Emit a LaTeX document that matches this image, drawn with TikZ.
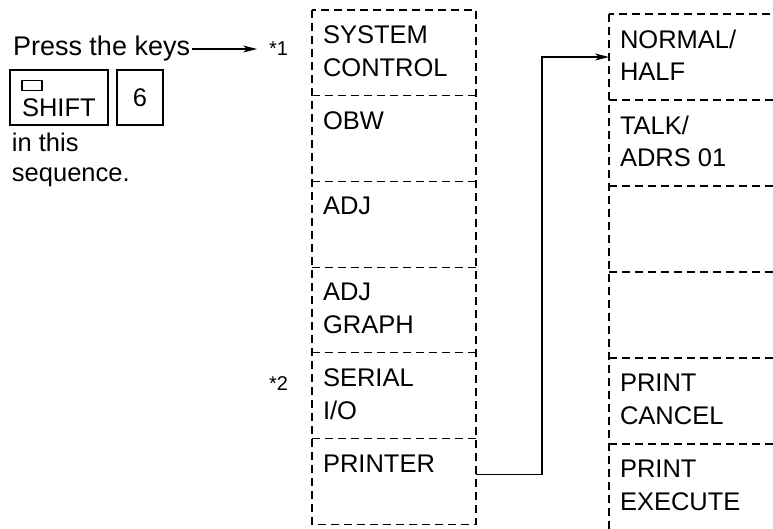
\documentclass[tikz,border=0pt]{standalone}
\usepackage{fontspec}
\setmainfont{Liberation Sans}
\usetikzlibrary{arrows.meta}
\begin{document}
\begin{tikzpicture}[x=1pt,y=-1pt,
  every node/.style={inner sep=0pt, outer sep=0pt},
  txt/.style={font=\fontsize{25.5pt}{32.5pt}\selectfont, align=left},
  startxt/.style={font=\fontsize{20pt}{24pt}\selectfont},
  cell/.style={anchor=north west, minimum width=164pt, minimum height=85.7pt},
  rcell/.style={anchor=north west, minimum width=200pt, minimum height=86pt},
  celltext/.style={label={[txt, anchor=north west, xshift=11pt, yshift=-16pt, label distance=0pt]north west:{#1}}},
  border/.style={draw=black, line width=1.1pt, dash pattern=on 8pt off 5pt},
  keybox/.style={draw=black, line width=1.2pt, minimum height=55pt},
  conn/.style={draw=black, line width=1.3pt, -{Stealth[length=14pt,width=7pt,inset=4pt]}}
]
\clip (0,0) rectangle (773,528);
\fill[white] (0,0) rectangle (773,528);

% left instructions
\node[txt, anchor=base west, font=\fontsize{27pt}{32pt}\selectfont] (press) at (13,55) {Press the keys};
\node[startxt, anchor=base east] (star1) at (288,55) {*1};
\draw[conn, line width=1.1pt] ([xshift=2pt,yshift=6pt]press.base east) -- ([xshift=-12pt,yshift=6pt]star1.base west);

\node[keybox, minimum width=98pt, anchor=north west] (shiftkey) at (10,70) {};
\node[txt, anchor=base west] (shifttxt) at (22,116) {SHIFT};
\node[draw=black, line width=1.1pt, minimum width=20pt, minimum height=10pt, anchor=south west] (shiftsym) at ([yshift=8pt]shifttxt.north west) {};
\node[keybox, minimum width=46pt, anchor=north west, txt] (sixkey) at (117,70) {6};

\node[txt, anchor=north west, font=\fontsize{25.5pt}{30pt}\selectfont] (seq) at (12,133) {in this\\sequence.};

% left column
\node[cell, celltext={SYSTEM\\CONTROL}] (c1) at (312,10) {};
\node[cell, celltext={OBW}] (c2) at (c1.south west) {};
\node[cell, celltext={ADJ}] (c3) at (c2.south west) {};
\node[cell, celltext={ADJ\\GRAPH}] (c4) at (c3.south west) {};
\node[cell, celltext={SERIAL\\I/O}] (c5) at (c4.south west) {};
\node[cell, celltext={PRINTER}] (c6) at (c5.south west) {};
\draw[border] (c1.north west) rectangle (c6.south east);
\foreach \c in {c1,c2,c3,c4,c5} \draw[border] (\c.south west) -- (\c.south east);

\node[startxt, anchor=base east] (star2) at (288,390) {*2};

% right column
\node[rcell, celltext={NORMAL/\\HALF}] (r1) at (609,14) {};
\node[rcell, celltext={TALK/\\ADRS 01}] (r2) at (r1.south west) {};
\node[rcell] (r3) at (r2.south west) {};
\node[rcell] (r4) at (r3.south west) {};
\node[rcell, celltext={PRINT\\CANCEL}] (r5) at (r4.south west) {};
\node[rcell, celltext={PRINT\\EXECUTE}, minimum height=120pt] (r6) at (r5.south west) {};
\draw[border] (r1.north west) rectangle (r6.south east);
\foreach \c in {r1,r2,r3,r4,r5} \draw[border] (\c.south west) -- (\c.south east);

% connector
\draw[conn] ([yshift=7pt]c6.east) -- ++(66,0) |- (r1.west);
\end{tikzpicture}
\end{document}
